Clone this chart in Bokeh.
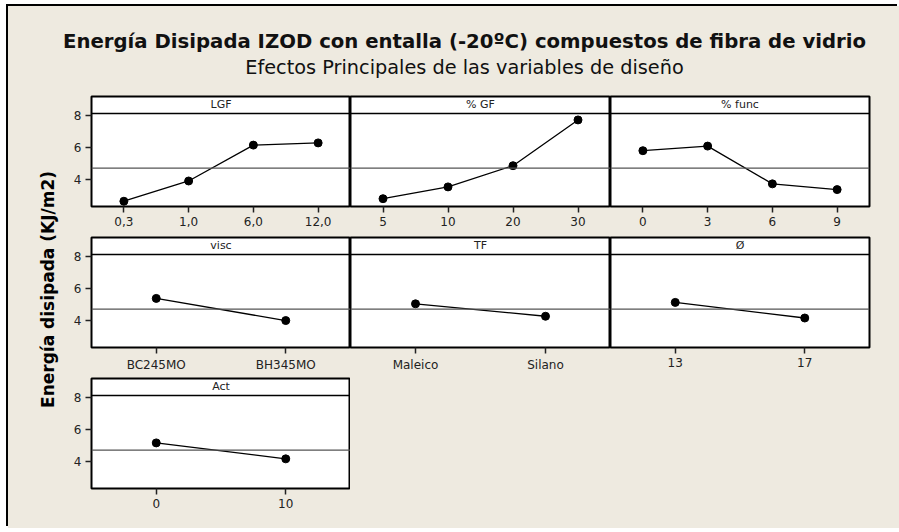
from bokeh.plotting import figure
from bokeh.layouts import column, row
from bokeh.models import Range1d, FactorRange, Span, Label, Title, FixedTicker
from bokeh.embed import file_html
from bokeh.resources import INLINE
from bokeh.core.validation import silence
from bokeh.core.validation.warnings import MISSING_RENDERERS

silence(MISSING_RENDERERS, True)

# ---------------- data ----------------
title_text = "Energía Disipada IZOD con entalla (-20ºC) compuestos de fibra de vidrio"
subtitle_text = "Efectos Principales de las variables de diseño"
y_label = "Energía disipada (KJ/m2)"

lgf_levels = ["0,3", "1,0", "6,0", "12,0"]
lgf_means = [2.61, 3.88, 6.13, 6.27]
gf_levels = ["5", "10", "20", "30"]
gf_means = [2.77, 3.51, 4.84, 7.71]
func_levels = ["0", "3", "6", "9"]
func_means = [5.78, 6.07, 3.70, 3.34]
visc_levels = ["BC245MO", "BH345MO"]
visc_means = [5.36, 3.97]
tf_levels = ["Maleico", "Silano"]
tf_means = [5.02, 4.24]
diam_levels = ["13", "17"]
diam_means = [5.11, 4.13]
act_levels = ["0", "10"]
act_means = [5.14, 4.14]
grand_mean = 4.69
y_ticks = [4, 6, 8]

# ---------------- style ----------------
BG = "#EEEAE0"
FONT = "DejaVu Sans"
Y0, Y1 = 2.28, 9.18
STRIP_Y = 8.12


def panel(name, levels, means, width, mb_left, mb_right, height, mb_bottom, show_y):
    p = figure(width=width, height=height,
               x_range=FactorRange(factors=levels), y_range=Range1d(Y0, Y1),
               output_backend="svg", toolbar_location=None,
               min_border=0, min_border_left=mb_left, min_border_right=mb_right,
               min_border_top=2, min_border_bottom=mb_bottom,
               y_axis_location="left" if show_y else None)
    p.background_fill_color = "white"
    p.border_fill_color = BG
    p.outline_line_color = "black"
    p.outline_line_width = 2
    p.xgrid.visible = False
    p.ygrid.visible = False

    ax = p.xaxis[0]
    ax.axis_line_color = None
    ax.major_tick_in = 0
    ax.major_tick_out = 6
    ax.major_tick_line_color = "#222222"
    ax.major_tick_line_width = 1.5
    ax.major_label_text_font = FONT
    ax.major_label_text_font_size = "12px"
    ax.major_label_text_color = "#222222"
    ax.major_label_standoff = 4

    if show_y:
        ya = p.yaxis[0]
        ya.ticker = FixedTicker(ticks=y_ticks)
        ya.axis_line_color = None
        ya.major_tick_in = 0
        ya.major_tick_out = 6
        ya.minor_tick_line_color = None
        ya.major_tick_line_color = "#222222"
        ya.major_tick_line_width = 1.5
        ya.major_label_text_font = FONT
        ya.major_label_text_font_size = "12px"
        ya.major_label_text_color = "#222222"
        ya.major_label_standoff = 4

    p.add_layout(Span(location=grand_mean, dimension="width",
                      line_color="#555555", line_width=1.2))
    p.add_layout(Span(location=STRIP_Y, dimension="width",
                      line_color="black", line_width=1.5))
    p.add_layout(Label(x=len(levels) / 2, y=(STRIP_Y + Y1) / 2, text=name,
                       text_align="center", text_baseline="middle",
                       text_font=FONT, text_font_size="11px",
                       text_color="#222222"))

    p.line(x=levels, y=means, line_color="black", line_width=1.3)
    p.scatter(x=levels, y=means, size=8, color="black")
    return p


# widths / heights (root shifted 8px right, 6px down)
C1_W, C2_W, C3_W = 289, 260, 289
R_H, R3_H = 141, 152

p11 = panel("LGF", lgf_levels, lgf_means, C1_W, 30, 0, R_H, 29, True)
p12 = panel("% GF", gf_levels, gf_means, C2_W, 0, 0, R_H, 29, False)
p13 = panel("% func", func_levels, func_means, C3_W, 0, 30, R_H, 29, False)
p21 = panel("visc", visc_levels, visc_means, C1_W, 30, 0, R_H, 29, True)
p22 = panel("TF", tf_levels, tf_means, C2_W, 0, 0, R_H, 29, False)
p23 = panel("Ø", diam_levels, diam_means, C3_W, 0, 30, R_H, 29, False)
p31 = panel("Act", act_levels, act_means, C1_W, 30, 0, R3_H, 40, True)

TOTAL_W = 53 + C1_W + C2_W + C3_W

# header with titles
hdr = figure(width=TOTAL_W, height=88, x_range=Range1d(0, 1), y_range=Range1d(0, 1),
             output_backend="svg", toolbar_location=None,
             x_axis_location=None, y_axis_location=None,
             min_border=0, min_border_left=21, min_border_top=74)
hdr.grid.visible = False
hdr.outline_line_color = None
hdr.background_fill_color = BG
hdr.border_fill_color = BG
hdr.add_layout(Title(text=subtitle_text, align="center", text_font=FONT,
                     text_font_size="19.3px", text_font_style="normal",
                     text_color="#111111", standoff=3), "above")
hdr.add_layout(Title(text=title_text, align="center", text_font=FONT,
                     text_font_size="19.7px", text_font_style="bold",
                     text_color="#111111", standoff=0), "above")

# y-axis label strip
lab = figure(width=53, height=434, x_range=Range1d(0, 1), y_range=Range1d(0, 1),
             output_backend="svg", toolbar_location=None,
             x_axis_location=None, min_border=0, min_border_left=50,
             min_border_right=0, min_border_top=0, min_border_bottom=44)
lab.grid.visible = False
lab.outline_line_color = None
lab.background_fill_color = BG
lab.border_fill_color = BG
la = lab.yaxis[0]
la.ticker = FixedTicker(ticks=[])
la.axis_line_color = None
la.major_tick_in = 0
la.major_tick_out = 0
la.minor_tick_line_color = None
la.axis_label = y_label
la.axis_label_text_font = FONT
la.axis_label_text_font_size = "17px"
la.axis_label_text_font_style = "bold"
la.axis_label_text_color = "black"
la.axis_label_standoff = 1

grid = column(row(p11, p12, p13), row(p21, p22, p23), row(p31))
root = column(hdr, row(lab, grid),
              styles={"background-color": BG,
                      "position": "relative", "left": "8px", "top": "6px",
                      "overflow": "hidden", "scrollbar-width": "none",
                      "box-shadow": "-2px -2px 0 0 black"})

open("out.html", "w").write(file_html(root, INLINE))
